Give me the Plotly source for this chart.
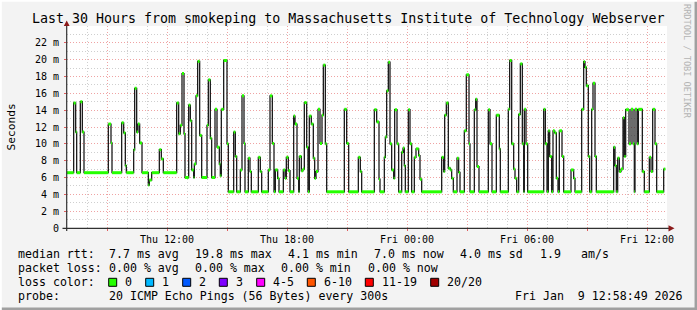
import plotly.graph_objects as go
import pandas as pd

START = "2026-01-08 07:00"
END = "2026-01-09 13:00"

# minutes since START where the median RTT changes, and the value (ms) from there on
t_min = [0, 20, 26, 29, 40, 46, 51, 124, 132, 135, 164, 170, 175, 178, 200, 203, 209, 213, 218, 225,
         244, 247, 254, 277, 283, 289, 329, 335, 340, 345, 351, 354, 365, 370, 374, 380, 382, 387, 392, 398,
         404, 420, 424, 430, 434, 444, 450, 457, 460, 463, 470, 480, 484, 500, 505, 509, 520, 525, 531, 534,
         544, 549, 553, 574, 580, 584, 604, 609, 616, 621, 625, 632, 636, 649, 654, 658, 664, 669, 680, 684,
         690, 695, 697, 703, 708, 712, 719, 723, 727, 733, 739, 743, 747, 753, 759, 765, 769, 775, 779, 832,
         839, 845, 874, 880, 884, 922, 929, 936, 939, 952, 955, 959, 964, 969, 974, 980, 983, 990, 995, 1004,
         1008, 1012, 1015, 1024, 1029, 1034, 1042, 1047, 1055, 1059, 1064, 1124, 1130, 1133, 1138, 1144, 1150, 1154, 1159, 1170,
         1175, 1179, 1192, 1198, 1206, 1209, 1222, 1226, 1230, 1236, 1264, 1269, 1275, 1288, 1297, 1300, 1324, 1328, 1334, 1340,
         1344, 1349, 1355, 1360, 1366, 1370, 1372, 1377, 1382, 1430, 1435, 1440, 1444, 1448, 1454, 1458, 1463, 1468, 1473, 1477,
         1485, 1490, 1512, 1520, 1524, 1544, 1550, 1554, 1558, 1564, 1568, 1574, 1578, 1584, 1588, 1640, 1644, 1648, 1652, 1657,
         1662, 1668, 1672, 1676, 1686, 1692, 1698, 1702, 1704, 1710, 1714, 1726, 1732, 1747, 1752, 1757, 1764, 1769, 1790, 1795]
rtt_ms = [6.57, 14.85, 11.4, 6.57, 15.0, 11.4, 6.57, 12.35, 10.1, 6.57, 12.5, 11.3, 7.4, 6.57, 9.3, 16.6, 11.4, 12.35, 10.1, 6.57,
          5.1, 5.7, 6.57, 9.3, 8.2, 6.57, 14.85, 11.2, 12.2, 18.35, 11.2, 6.0, 14.6, 12.75, 6.9, 6.0, 7.6, 15.7, 19.8, 11.0,
          6.0, 12.2, 17.6, 10.65, 6.0, 14.1, 9.6, 7.6, 6.2, 14.1, 19.9, 10.0, 4.3, 11.4, 8.5, 4.3, 6.9, 15.7, 10.05, 4.3,
          8.3, 6.7, 4.3, 8.4, 6.7, 4.3, 6.9, 15.7, 10.05, 4.3, 6.9, 5.9, 4.3, 6.9, 5.9, 8.4, 6.8, 4.3, 13.3, 12.35,
          5.9, 4.3, 8.5, 6.8, 7.0, 14.9, 9.6, 4.3, 13.3, 12.35, 8.3, 5.9, 6.7, 14.1, 10.05, 13.4, 19.35, 10.0, 4.3, 14.1,
          10.05, 4.3, 8.4, 6.7, 4.3, 14.05, 12.6, 5.8, 4.3, 8.4, 10.8, 16.3, 19.7, 10.0, 6.9, 5.9, 14.05, 10.0, 4.3, 9.0,
          9.5, 7.4, 4.3, 14.05, 10.0, 4.3, 8.4, 9.4, 8.6, 5.8, 4.3, 8.4, 6.7, 13.4, 14.85, 7.1, 6.9, 5.9, 4.3, 8.3,
          6.6, 4.3, 11.55, 18.2, 10.0, 4.3, 14.05, 15.3, 7.3, 4.3, 14.05, 10.0, 4.3, 13.4, 9.4, 4.3, 14.1, 19.9, 10.0, 7.0,
          5.9, 4.3, 13.5, 19.5, 10.0, 4.3, 14.1, 10.0, 4.3, 14.1, 10.0, 4.3, 11.55, 8.5, 4.3, 11.55, 11.3, 5.9, 4.3, 11.55,
          8.5, 4.3, 6.9, 5.9, 4.3, 14.1, 19.75, 19.1, 16.9, 8.5, 4.3, 14.1, 17.2, 8.5, 4.3, 9.6, 7.4, 4.3, 8.3, 6.7,
          7.0, 13.1, 8.5, 14.05, 10.0, 14.1, 10.0, 4.3, 14.1, 10.0, 14.1, 6.7, 4.3, 8.4, 6.7, 14.1, 10.0, 4.3, 7.0, 7.0]

x_tick_times = ["2026-01-08 09:00", "2026-01-08 12:00", "2026-01-08 15:00", "2026-01-08 18:00", "2026-01-08 21:00",
                "2026-01-09 00:00", "2026-01-09 03:00", "2026-01-09 06:00", "2026-01-09 09:00", "2026-01-09 12:00"]
x_tick_labels = ["", "Thu 12:00", "", "Thu 18:00", "", "Fri 00:00", "", "Fri 06:00", "", "Fri 12:00"]
y_tick_vals = [0, 2, 4, 6, 8, 10, 12, 14, 16, 18, 20, 22]
y_tick_labels = ["0", "2 m", "4 m", "6 m", "8 m", "10 m", "12 m", "14 m", "16 m", "18 m", "20 m", "22 m"]

title_text = "Last 30 Hours from smokeping to Massachusetts Institute of Technology Webserver"
stat_rows = [
    ("median rtt:", ["7.7 ms avg", "19.8 ms max", "4.1 ms min", "7.0 ms now", "4.0 ms sd", "1.9", "am/s"]),
    ("packet loss:", ["0.00 % avg", "0.00 % max", "0.00 % min", "0.00 % now"]),
]
loss_labels = ["0", "1", "2", "3", "4-5", "6-10", "11-19", "20/20"]
loss_colors = ["#26ff00", "#00b8ff", "#0059ff", "#7e00ff", "#ff00ff", "#ff5500", "#ff0000", "#a10000"]
probe_text = "20 ICMP Echo Pings (56 Bytes) every 300s"
date_text = "Fri Jan  9 12:58:49 2026"

# ---------------------------------------------------------------------------
W, H = 697, 310
L, R, T, B = 67, 30, 26, 82
PW, PH = W - L - R, H - T - B
MONO = "DejaVu Sans Mono"


def px(x):
    return (x - L) / PW


def py(y):
    return (H - B - y) / PH


start = pd.Timestamp(START)
times = [start + pd.Timedelta(minutes=m) for m in t_min]

fig = go.Figure()
# dark median line (steps)
fig.add_trace(go.Scatter(x=times, y=rtt_ms, mode="lines", line=dict(color="#1c1c1c", width=1.3, shape="hv"),
                         hoverinfo="skip"))
# loss-coloured (0 loss -> green) level segments
gx, gy = [], []
for i in range(len(times) - 1):
    gx += [times[i], times[i + 1], None]
    gy += [rtt_ms[i], rtt_ms[i], None]
fig.add_trace(go.Scatter(x=gx, y=gy, mode="lines", line=dict(color=loss_colors[0], width=3),
                         connectgaps=False, hoverinfo="skip"))

shapes = []
ann = []

# axes lines and arrows
shapes.append(dict(type="line", xref="paper", yref="paper", x0=px(62.5), x1=px(669), y0=py(228.3), y1=py(228.3),
                   line=dict(color="#303030", width=1.2), layer="above"))
shapes.append(dict(type="line", xref="paper", yref="paper", x0=px(66.7), x1=px(66.7), y0=py(231), y1=py(25),
                   line=dict(color="#303030", width=1.2), layer="above"))
shapes.append(dict(type="path", xref="paper", yref="paper",
                   path=f"M {px(66.7)} {py(20.5)} L {px(63.8)} {py(26)} L {px(69.6)} {py(26)} Z",
                   fillcolor="#8b1a1a", line=dict(width=0), layer="above"))
shapes.append(dict(type="path", xref="paper", yref="paper",
                   path=f"M {px(674.5)} {py(228.3)} L {px(668.5)} {py(225.2)} L {px(668.5)} {py(231.4)} Z",
                   fillcolor="#8b1a1a", line=dict(width=0), layer="above"))

# frame
shapes.append(dict(type="line", xref="paper", yref="paper", x0=px(0), x1=px(W), y0=py(308.8), y1=py(308.8),
                   line=dict(color="#a0a0a0", width=2.5), layer="above"))
shapes.append(dict(type="line", xref="paper", yref="paper", x0=px(695.8), x1=px(695.8), y0=py(0), y1=py(H),
                   line=dict(color="#a0a0a0", width=2.5), layer="above"))
shapes.append(dict(type="line", xref="paper", yref="paper", x0=px(0), x1=px(W), y0=py(0.8), y1=py(0.8),
                   line=dict(color="#ffffff", width=2), layer="above"))
shapes.append(dict(type="line", xref="paper", yref="paper", x0=px(0.8), x1=px(0.8), y0=py(0), y1=py(H),
                   line=dict(color="#ffffff", width=2), layer="above"))

# title
ann.append(dict(text=title_text, xref="paper", yref="paper", x=px(348), y=py(19), xanchor="center", yanchor="middle",
                showarrow=False, font=dict(family=MONO, size=13.3, color="#000000")))
# y title
ann.append(dict(text="Seconds", xref="paper", yref="paper", x=px(10.5), y=py(127), xanchor="center", yanchor="middle",
                textangle=-90, showarrow=False, font=dict(family=MONO, size=11.2, color="#000000")))
# watermark
ann.append(dict(text="RRDTOOL / TOBI OETIKER", xref="paper", yref="paper", x=px(687), y=py(61), xanchor="center",
                yanchor="middle", textangle=90, showarrow=False, font=dict(family=MONO, size=8.6, color="#b4b4b4")))

FS = 11.6
row_y = [254, 268, 282.3, 296]
stat_x = [[107.3, 193.3, 286, 372.3, 458.3, 537.7, 579.3], [107.3, 193.3, 279, 365.7]]
for r, (lab, items) in enumerate(stat_rows):
    ann.append(dict(text=lab, xref="paper", yref="paper", x=px(16), y=py(row_y[r]), xanchor="left", yanchor="middle",
                    showarrow=False, font=dict(family=MONO, size=FS, color="#000000")))
    for xx, it in zip(stat_x[r], items):
        ann.append(dict(text=it, xref="paper", yref="paper", x=px(xx), y=py(row_y[r]), xanchor="left",
                        yanchor="middle", showarrow=False, font=dict(family=MONO, size=FS, color="#000000")))

ann.append(dict(text="loss color:", xref="paper", yref="paper", x=px(16), y=py(row_y[2]), xanchor="left",
                yanchor="middle", showarrow=False, font=dict(family=MONO, size=FS, color="#000000")))
box_x = [108.7, 145.7, 182.7, 219.3, 256.7, 307.3, 365.3, 430.7]
for bx, lab, col in zip(box_x, loss_labels, loss_colors):
    shapes.append(dict(type="rect", xref="paper", yref="paper", x0=px(bx), x1=px(bx + 8), y0=py(278.3), y1=py(286.3),
                       fillcolor=col, line=dict(color="#000000", width=1), layer="above"))
    ann.append(dict(text=lab, xref="paper", yref="paper", x=px(bx + 14.3), y=py(row_y[2]), xanchor="left",
                    yanchor="middle", showarrow=False, font=dict(family=MONO, size=FS, color="#000000")))

ann.append(dict(text="probe:", xref="paper", yref="paper", x=px(16), y=py(row_y[3]), xanchor="left", yanchor="middle",
                showarrow=False, font=dict(family=MONO, size=FS, color="#000000")))
ann.append(dict(text=probe_text, xref="paper", yref="paper", x=px(107.3), y=py(row_y[3]), xanchor="left",
                yanchor="middle", showarrow=False, font=dict(family=MONO, size=FS, color="#000000")))
ann.append(dict(text=date_text, xref="paper", yref="paper", x=px(513.3), y=py(row_y[3]), xanchor="left",
                yanchor="middle", showarrow=False, font=dict(family=MONO, size=FS, color="#000000")))

MAJ = "#efa3a3"
MIN = "#cfcfcf"
fig.update_layout(
    width=W, height=H, margin=dict(l=L, r=R, t=T, b=B, pad=0),
    paper_bgcolor="#f3f3f3", plot_bgcolor="#ffffff", showlegend=False,
    shapes=shapes, annotations=ann,
    xaxis=dict(type="date", range=[START, END], tickmode="array", tickvals=x_tick_times, ticktext=x_tick_labels,
               showgrid=True, gridcolor=MAJ, griddash="1px,2px", gridwidth=1,
               ticks="outside", ticklen=2, tickcolor="#e06060", showline=False, zeroline=False,
               tickfont=dict(family=MONO, size=10, color="#000000"), tickangle=0,
               minor=dict(dtick=3600000, tick0=START, showgrid=True, gridcolor=MIN, griddash="1px,2px", gridwidth=1,
                          ticks="")),
    yaxis=dict(range=[0, 24], tickmode="array", tickvals=y_tick_vals, ticktext=y_tick_labels,
               showgrid=True, gridcolor=MAJ, griddash="1px,2px", gridwidth=1,
               ticks="outside", ticklen=2, tickcolor="#e06060", showline=False, zeroline=False,
               tickfont=dict(family=MONO, size=10, color="#000000"), ticklabelstandoff=3,
               minor=dict(dtick=1, tick0=0, showgrid=True, gridcolor=MIN, griddash="1px,2px", gridwidth=1, ticks="")),
)

fig.write_html("out.html")
